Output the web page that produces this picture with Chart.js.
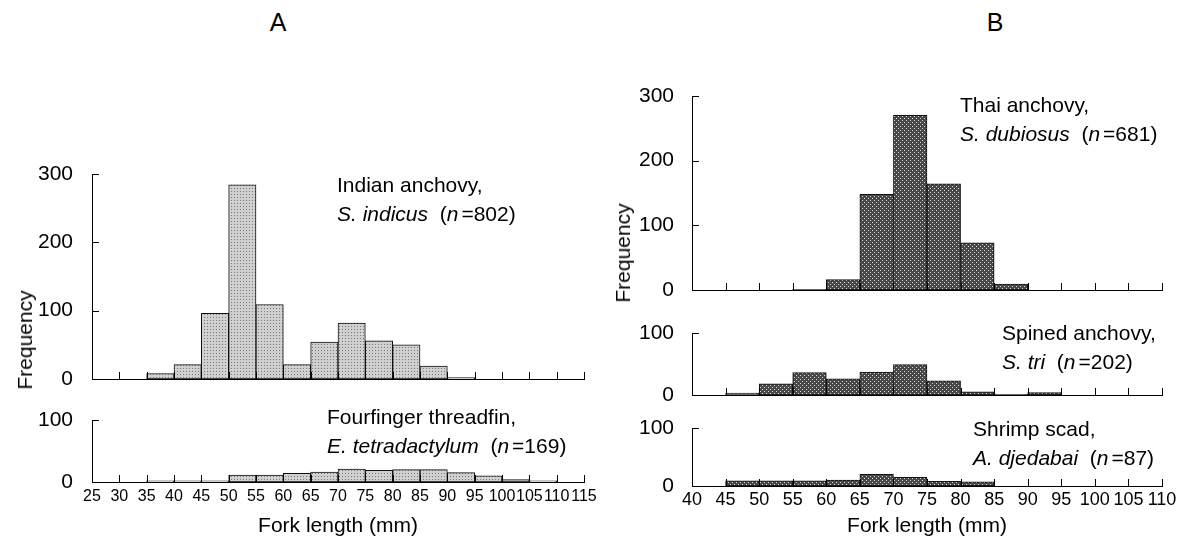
<!DOCTYPE html>
<html>
<head>
<meta charset="utf-8">
<script src="https://cdn.jsdelivr.net/npm/chart.js@4.4.1/dist/chart.umd.min.js"></script>
<style>
  html, body { margin: 0; padding: 0; background: #fff; }
  #page { position: relative; width: 1192px; height: 548px; overflow: hidden;
          font-family: "Liberation Sans", Arial, sans-serif; color: #000; }
  canvas { position: absolute; }
  .t { position: absolute; font-size: 21px; line-height: 28.5px; white-space: nowrap; }
  .n { margin-right: 3px; }
  .title { position: absolute; font-size: 25px; width: 100px; text-align: center; line-height: 30px; }
  .ylab { position: absolute; font-size: 21px; white-space: nowrap;
          transform: translate(-50%, -50%) rotate(-90deg); }
</style>
</head>
<body>
<div id="page">
  <canvas id="aTop" width="600" height="229" style="left:0;top:164px"></canvas>
  <canvas id="aBot" width="600" height="138" style="left:0;top:410px"></canvas>
  <canvas id="bTop" width="592" height="218" style="left:600px;top:86px"></canvas>
  <canvas id="bMid" width="592" height="86" style="left:600px;top:323px"></canvas>
  <canvas id="bBot" width="592" height="130" style="left:600px;top:418px"></canvas>

  <div class="title" style="left:228px;top:7px">A</div>
  <div class="title" style="left:945px;top:7px">B</div>
  <div class="ylab" style="left:25px;top:340px">Frequency</div>
  <div class="ylab" style="left:623px;top:253px">Frequency</div>

  <div class="t" style="left:337px;top:171px">Indian anchovy,<br><i>S. indicus</i>&nbsp; (<i class="n">n</i>=802)</div>
  <div class="t" style="left:327px;top:403px">Fourfinger threadfin,<br><i>E. tetradactylum</i>&nbsp; (<i class="n">n</i>=169)</div>
  <div class="t" style="left:960px;top:91px">Thai anchovy,<br><i>S. dubiosus</i>&nbsp; (<i class="n">n</i>=681)</div>
  <div class="t" style="left:1002px;top:319px">Spined anchovy,<br><i>S. tri</i>&nbsp; (<i class="n">n</i>=202)</div>
  <div class="t" style="left:973px;top:415px">Shrimp scad,<br><i>A. djedabai</i>&nbsp; (<i class="n">n</i>=87)</div>
</div>

<script>
// bin lower edges (mm), bin width 5 mm
const binsA = [25, 30, 35, 40, 45, 50, 55, 60, 65, 70, 75, 80, 85, 90, 95, 100, 105, 110];
const binsB = [40, 45, 50, 55, 60, 65, 70, 75, 80, 85, 90, 95, 100, 105];

// frequencies per bin
const indianAnchovy = [0, 0, 8, 21, 96, 284, 109, 21, 54, 82, 56, 50, 19, 2, 0, 0, 0, 0];
const fourfingerThreadfin = [0, 0, 2, 2, 2, 11, 11, 14, 16, 21, 19, 20, 20, 15, 10, 4, 2, 0];
const thaiAnchovy = [0, 0, 0, 1, 16, 148, 270, 164, 73, 9, 0, 0, 0, 0];
const spinedAnchovy = [0, 3, 18, 36, 26, 37, 49, 23, 5, 1, 4, 0, 0, 0];
const shrimpScad = [0, 9, 9, 9, 10, 20, 15, 8, 7, 0, 0, 0, 0, 0];

// tick labels
const xTicksA = [25, 30, 35, 40, 45, 50, 55, 60, 65, 70, 75, 80, 85, 90, 95, 100, 105, 110, 115];
const xTicksB = [40, 45, 50, 55, 60, 65, 70, 75, 80, 85, 90, 95, 100, 105, 110];
const yTicksBig = [0, 100, 200, 300];
const yTicksSmall = [0, 100];

const FONT = '"Liberation Sans", Arial, sans-serif';

// dotted fill like the printed screen tone
function stipple(base, dot, step) {
  const c = document.createElement("canvas");
  c.width = c.height = step;
  const g = c.getContext("2d");
  g.fillStyle = base;
  g.fillRect(0, 0, step, step);
  g.fillStyle = dot;
  g.fillRect(0, 0, 1, 1);
  if (step >= 4) g.fillRect(step / 2, step / 2, 1, 1);
  return g.createPattern(c, "repeat");
}

// tick marks pointing into the plot
const innerTicks = {
  id: "innerTicks",
  afterDraw(chart) {
    const { ctx, chartArea, scales } = chart;
    const x = scales.x, y = scales.y;
    ctx.save();
    ctx.strokeStyle = "#000";
    ctx.lineWidth = 1;
    ctx.beginPath();
    x.ticks.forEach((t, i) => {
      if (i === 0) return;
      const px = Math.round(x.getPixelForValue(t.value)) + 0.5;
      ctx.moveTo(px, chartArea.bottom);
      ctx.lineTo(px, chartArea.bottom - 7);
    });
    y.ticks.forEach((t, i) => {
      if (i === 0) return;
      const py = Math.round(y.getPixelForValue(t.value)) + 0.5;
      ctx.moveTo(chartArea.left, py);
      ctx.lineTo(chartArea.left + 7, py);
    });
    ctx.stroke();
    ctx.restore();
  },
};

function histChart(id, cfg) {
  const ctx = document.getElementById(id).getContext("2d");
  const points = cfg.bins.map((b, i) => ({ x: b + 2.5, y: cfg.values[i] }));
  return new Chart(ctx, {
    type: "bar",
    data: {
      datasets: [
        {
          data: points,
          backgroundColor: cfg.fill,
          borderColor: "#111",
          borderWidth: 1,
          borderSkipped: false,
          barPercentage: 1,
          categoryPercentage: 1,
        },
      ],
    },
    options: {
      responsive: false,
      animation: false,
      events: [],
      layout: { padding: { top: 10, right: cfg.padRight, bottom: 0, left: 0 } },
      plugins: { legend: { display: false }, tooltip: { enabled: false } },
      scales: {
        x: {
          type: "linear",
          min: cfg.xTicks[0],
          max: cfg.xTicks[cfg.xTicks.length - 1],
          offset: false,
          grid: { display: false, drawTicks: false },
          border: { display: true, color: "#000", width: 1 },
          ticks: {
            display: cfg.xLabels,
            autoSkip: false,
            maxRotation: 0,
            padding: cfg.xPad,
            color: "#000",
            font: { family: FONT, size: cfg.xFont },
          },
          title: {
            display: cfg.xLabels,
            text: "Fork length (mm)",
            color: "#000",
            font: { family: FONT, size: 21 },
            padding: { top: 0, bottom: 9 },
          },
          afterBuildTicks: (s) => { s.ticks = cfg.xTicks.map((v) => ({ value: v })); },
          afterFit: (s) => {
            s.height = cfg.xHeight;
            s.paddingLeft = 0;
            s.paddingRight = 0;
          },
        },
        y: {
          min: 0,
          max: cfg.yTicks[cfg.yTicks.length - 1],
          grid: { display: false, drawTicks: false },
          border: { display: true, color: "#000", width: 1 },
          ticks: {
            padding: cfg.yPad,
            color: "#000",
            font: { family: FONT, size: 21 },
          },
          afterBuildTicks: (s) => { s.ticks = cfg.yTicks.map((v) => ({ value: v })); },
          afterFit: (s) => {
            // fixed gutter, no extra room for the end labels
            s.width = 92;
            s.paddingTop = 0;
            s.paddingBottom = 0;
          },
        },
      },
    },
    plugins: [innerTicks],
  });
}

const lightTone = stipple("#d0d0d0", "#7a7a7a", 3);
const darkTone = stipple("#484848", "#d8d8d8", 4);

histChart("aTop", { bins: binsA, values: indianAnchovy, xTicks: xTicksA, yTicks: yTicksBig,
  fill: lightTone, padRight: 16, xHeight: 14, xLabels: false, xPad: 0, xFont: 16, yPad: 19 });
histChart("aBot", { bins: binsA, values: fourfingerThreadfin, xTicks: xTicksA, yTicks: yTicksSmall,
  fill: lightTone, padRight: 16, xHeight: 66, xLabels: true, xPad: 5, xFont: 16, yPad: 19 });
histChart("bTop", { bins: binsB, values: thaiAnchovy, xTicks: xTicksB, yTicks: yTicksBig,
  fill: darkTone, padRight: 30, xHeight: 14, xLabels: false, xPad: 0, xFont: 18, yPad: 18 });
histChart("bMid", { bins: binsB, values: spinedAnchovy, xTicks: xTicksB, yTicks: yTicksSmall,
  fill: darkTone, padRight: 30, xHeight: 14, xLabels: false, xPad: 0, xFont: 18, yPad: 18 });
histChart("bBot", { bins: binsB, values: shrimpScad, xTicks: xTicksB, yTicks: yTicksSmall,
  fill: darkTone, padRight: 30, xHeight: 62, xLabels: true, xPad: 3, xFont: 18, yPad: 18 });
</script>
</body>
</html>
